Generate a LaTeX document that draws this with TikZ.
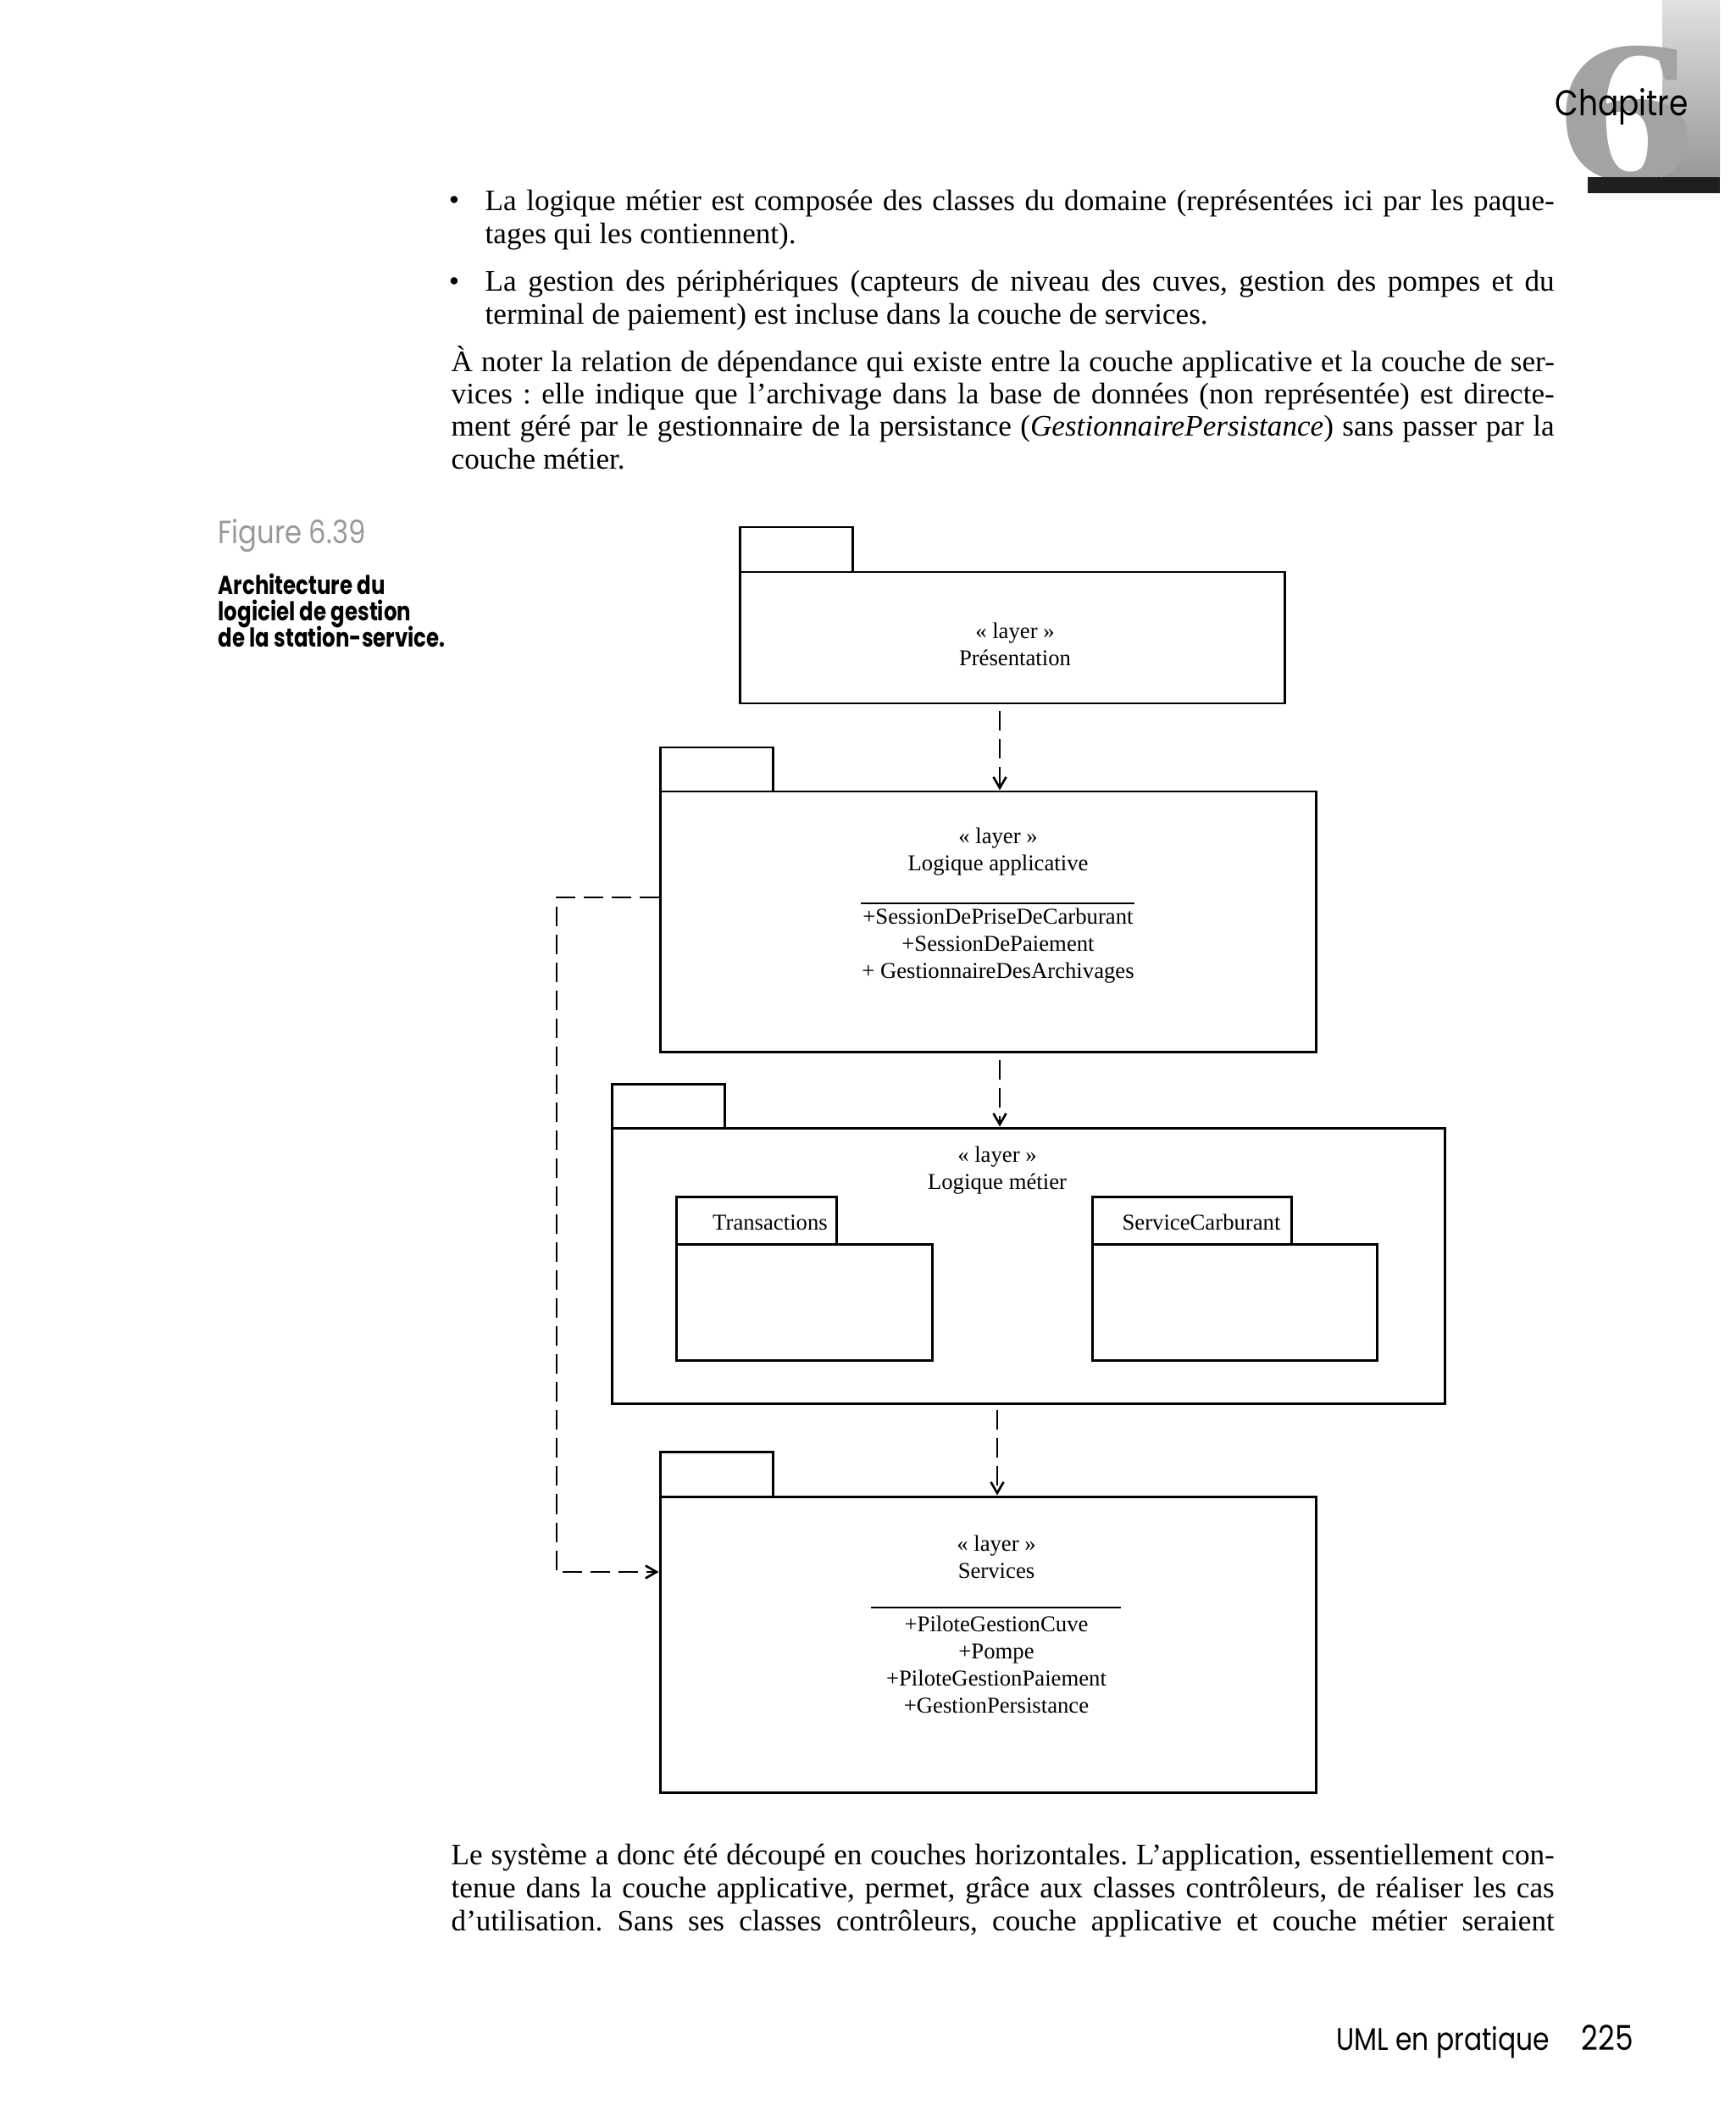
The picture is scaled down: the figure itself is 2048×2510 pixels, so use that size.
\documentclass[tikz,border=0pt]{standalone}
\usepackage{graphicx}
\usepackage{fontspec}
\setmainfont{Liberation Serif}
\newfontfamily\futura[FakeStretch=0.85]{Poppins}
\newfontfamily\futurab[FakeStretch=0.8]{Poppins}
\usetikzlibrary{arrows.meta,fit}
\frenchspacing
\begin{document}
\begin{tikzpicture}[x=0.1mm,y=-0.1mm,
  pkgbox/.style={draw=black, line width=0.85pt, inner sep=0pt},
  dep/.style={draw=black, line width=0.75pt, dash pattern=on 2.3mm off 1.0mm,
    -{Straight Barb[length=1.3mm,width=1.5mm]}},
  dtext/.style={font=\fontsize{7.6}{9.1}\selectfont, align=center, inner sep=0pt},
  sepline/.style={draw=black, line width=0.6pt},
  body/.style={font=\fontsize{10}{12}\selectfont\frenchspacing, inner sep=0pt, anchor=base west},
  bul/.style={font=\fontsize{10}{10}\selectfont, inner sep=0pt},
  capgray/.style={font=\futura\fontsize{10.8}{12}\selectfont, text=black!40, inner sep=0pt, anchor=base west},
  capbold/.style={font=\futurab\bfseries\fontsize{8.7}{10}\selectfont, inner sep=0pt, anchor=base west},
  foot/.style={font=\futura\fontsize{10.5}{12}\selectfont, inner sep=0pt},
]
\def\bw{126.2mm}
\def\pw{130.2mm}
\fill[white] (0,0) rectangle (2048,2510);
\useasboundingbox (0,0) rectangle (2048,2510);

% ---- chapter mark ----
\fill[top color=black!12, bottom color=black!40] (1962,0) rectangle (2030,209);
\node[anchor=base, text=black!36, inner sep=0pt] (six) at (1920,213)
  {\fontsize{68}{68}\selectfont\bfseries\scalebox{1.38}[1]{6}};
\fill[black!88] (1874,209) rectangle (2030,228);
\node[anchor=base west, inner sep=0pt, font=\futura\fontsize{12}{12}\selectfont] (chap) at (1835,136.7) {Chapitre};

% ---- body text above ----
\node[bul] (d1) at (536,240) {•};
\node[body] (b1a) at (572,248.3) {\makebox[\bw][s]{La logique métier est composée des classes du domaine (représentées ici par les paque-}};
\node[body] (b1b) at (572,287.3) {tages qui les contiennent).};
\node[bul] (d2) at (536,336) {•};
\node[body] (b2a) at (572,343.3) {\makebox[\bw][s]{La gestion des périphériques (capteurs de niveau des cuves, gestion des pompes et du}};
\node[body] (b2b) at (572,382.3) {terminal de paiement) est incluse dans la couche de services.};
\node[body] (p1) at (532,438.3) {\makebox[\pw][s]{À noter la relation de dépendance qui existe entre la couche applicative et la couche de ser-}};
\node[body] (p2) at (532,476.7) {\makebox[\pw][s]{vices : elle indique que l’archivage dans la base de données (non représentée) est directe-}};
\node[body] (p3) at (532,515) {\makebox[\pw][s]{ment géré par le gestionnaire de la persistance (\textit{GestionnairePersistance}) sans passer par la}};
\node[body] (p4) at (532,554) {couche métier.};

% ---- caption ----
\node[capgray] (figno) at (257,641.7) {Figure 6.39};
\node[capbold] (cap1) at (257,701.7) {Architecture du};
\node[capbold] (cap2) at (257,732.5) {logiciel de gestion};
\node[capbold] (cap3) at (257,763.3) {de la station-service.};

% ---- packages ----
\node[pkgbox, fit={(873,622)(1006,675)}] (pres-tab) {};
\node[pkgbox, fit={(873,675)(1516,830)}] (pres) {};
\node[dtext] (pres-lbl) at (1198,760) {« layer »\\Présentation};

\node[pkgbox, fit={(779,882)(912,934)}] (la-tab) {};
\node[pkgbox, fit={(779,934)(1553,1241)}] (la) {};
\node[dtext] (la-lbl) at (1178,1005) {« layer »\\Logique applicative};
\coordinate (la-s1) at (1016,1066);
\coordinate (la-s2) at (1339,1066);
\draw[sepline] (la-s1) -- (la-s2);
\node[dtext] (la-items) at (1178,1116.5) {+SessionDePriseDeCarburant\\+SessionDePaiement\\+ GestionnaireDesArchivages};

\node[pkgbox, fit={(722,1279)(855,1331)}] (lm-tab) {};
\node[pkgbox, fit={(722,1331)(1705,1656)}] (lm) {};
\node[dtext] (lm-lbl) at (1177,1381.5) {« layer »\\Logique métier};

\node[pkgbox, fit={(798,1412)(987,1468)}] (tr-tab) {};
\node[pkgbox, fit={(798,1468)(1100,1605)}] (tr) {};
\node[dtext] (tr-lbl) at (909,1443) {Transactions};

\node[pkgbox, fit={(1289,1412)(1524,1468)}] (sc-tab) {};
\node[pkgbox, fit={(1289,1468)(1625,1605)}] (sc) {};
\node[dtext] (sc-lbl) at (1418,1442) {ServiceCarburant};

\node[pkgbox, fit={(779,1713)(912,1766)}] (sv-tab) {};
\node[pkgbox, fit={(779,1766)(1553,2115)}] (sv) {};
\node[dtext] (sv-lbl) at (1176,1837) {« layer »\\Services};
\coordinate (sv-s1) at (1028,1897);
\coordinate (sv-s2) at (1323,1897);
\draw[sepline] (sv-s1) -- (sv-s2);
\node[dtext] (sv-items) at (1176,1964) {+PiloteGestionCuve\\+Pompe\\+PiloteGestionPaiement\\+GestionPersistance};

% ---- dependencies ----
\coordinate (ax) at (1180,0);
\coordinate (bx) at (1177,0);
\coordinate (a1) at ([yshift=-0.8mm]pres.south);
\coordinate (a2) at ([yshift=-0.8mm]la.south);
\coordinate (a3) at ([yshift=-0.6mm]lm.south);
\draw[dep] (a1 -| ax) -- (la.north -| ax);
\draw[dep] (a2 -| ax) -- (lm.north -| ax);
\draw[dep] (a3 -| bx) -- (sv.north -| bx);
\coordinate (c1) at (657,1059);
\coordinate (c2) at (657,1855);
\draw[dep] (la.west |- c1) -- (c1) -- (c2) -- (sv.west |- c2);

% ---- body text below ----
\node[body] (q1) at (532,2200.5) {\makebox[\pw][s]{Le système a donc été découpé en couches horizontales. L’application, essentiellement con-}};
\node[body] (q2) at (532,2239.3) {\makebox[\pw][s]{tenue dans la couche applicative, permet, grâce aux classes contrôleurs, de réaliser les cas}};
\node[body] (q3) at (532,2278.3) {\makebox[\pw][s]{d’utilisation. Sans ses classes contrôleurs, couche applicative et couche métier seraient}};

% ---- footer ----
\node[foot, anchor=base east] (ftitle) at (1830,2419) {UML en pratique};
\node[foot, anchor=base west, font=\futura\fontsize{11.5}{12}\selectfont] (pgno) at (1866,2419) {225};
\end{tikzpicture}
\end{document}
